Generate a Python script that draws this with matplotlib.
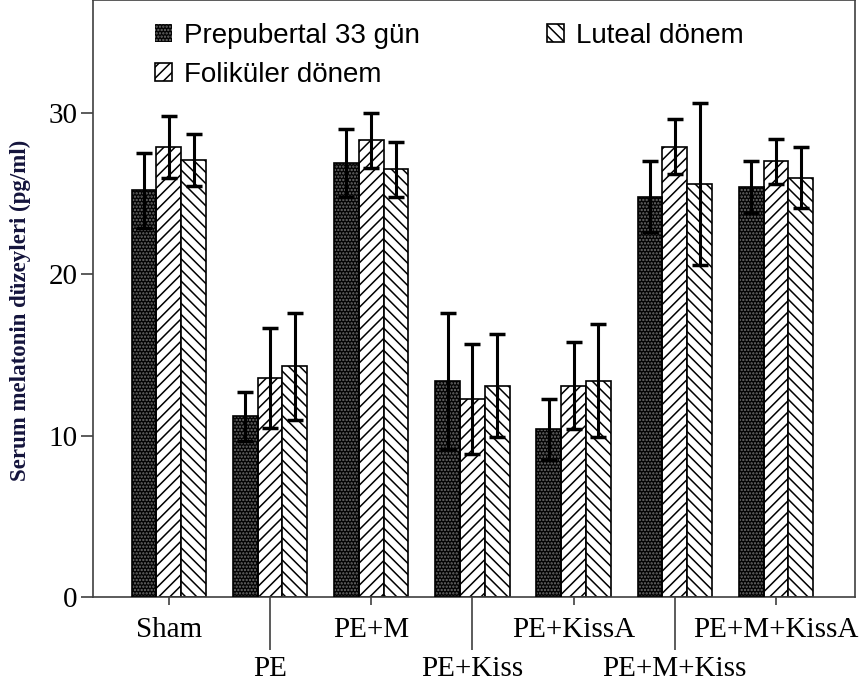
import numpy as np
import matplotlib.pyplot as plt

groups = ['Sham', 'PE', 'PE+M', 'PE+Kiss', 'PE+KissA', 'PE+M+Kiss', 'PE+M+KissA']
series = ['Prepubertal 33 gün', 'Foliküler dönem', 'Luteal dönem']

# mean serum melatonin (pg/ml) and error bar half-widths
prepubertal = [25.2, 11.2, 26.9, 13.4, 10.4, 24.8, 25.4]
prepubertal_err = [2.3, 1.5, 2.1, 4.2, 1.9, 2.2, 1.6]
folikuler = [27.9, 13.6, 28.3, 12.3, 13.1, 27.9, 27.0]
folikuler_err = [1.9, 3.1, 1.7, 3.4, 2.7, 1.7, 1.4]
luteal = [27.1, 14.3, 26.5, 13.1, 13.4, 25.6, 26.0]
luteal_err = [1.6, 3.3, 1.7, 3.2, 3.5, 5.0, 1.9]

yticks = [0, 10, 20, 30]

plt.rcParams['hatch.linewidth'] = 1.1
serif = 'Liberation Serif'
sans = 'Liberation Sans'

fig = plt.figure(figsize=(8.61, 6.88), dpi=100)
ax = fig.add_axes([0.108, 0.132, 0.885, 0.868])

x = np.arange(len(groups))
w = 0.245

# dark bars: grey dot texture underneath, black outline on top
b0 = ax.bar(x - w, prepubertal, w, color='#030303', edgecolor='#6e6e6e',
            hatch='.....', linewidth=0, zorder=2)
ax.bar(x - w, prepubertal, w, fill=False, edgecolor='black', linewidth=1.2, zorder=3)
b1 = ax.bar(x, folikuler, w, color='white', edgecolor='black', hatch='///',
            linewidth=1.2, zorder=2)
b2 = ax.bar(x + w, luteal, w, color='white', edgecolor='black', hatch='\\\\\\',
            linewidth=1.2, zorder=2)

for pos, vals, errs in [(x - w, prepubertal, prepubertal_err),
                        (x, folikuler, folikuler_err),
                        (x + w, luteal, luteal_err)]:
    ax.errorbar(pos, vals, yerr=errs, fmt='none', ecolor='black',
                elinewidth=2.2, capsize=6, capthick=2.5, zorder=4)

ax.set_xlim(-0.75, 6.78)
ax.set_ylim(0, 37.0)
ax.set_yticks(yticks)
ax.set_yticklabels([str(t) for t in yticks], fontsize=21, family=serif)

# alternate labels between two rows, lower row hangs on long ticks
ax.set_xticks(x[::2], groups[::2], fontsize=21, family=serif)
ax.set_xticks(x[1::2], groups[1::2], minor=True, fontsize=21, family=serif)
ax.tick_params(axis='x', which='major', length=6, width=1.2, pad=8, color='#404040')
ax.tick_params(axis='x', which='minor', length=38, width=1.2, pad=4, color='#404040')
ax.tick_params(axis='y', length=9, width=1.2, pad=2, color='#404040')

for s in ax.spines.values():
    s.set_color('#404040')
    s.set_linewidth(1.2)

ax.set_ylabel('Serum melatonin düzeyleri (pg/ml)', fontsize=16.5,
              fontweight='bold', family=serif, color='#14143c')
ax.yaxis.set_label_coords(-0.081, 0.48)

ax.legend([b0, b1, b2], series, ncol=2, frameon=False, loc='upper left',
          bbox_to_anchor=(0.081, 0.962), prop={'family': sans, 'size': 20},
          handlelength=0.62, handleheight=0.62, handletextpad=0.42,
          labelspacing=0.47, columnspacing=4.6, borderaxespad=0, borderpad=0)

fig.savefig('out.png', dpi=100)
